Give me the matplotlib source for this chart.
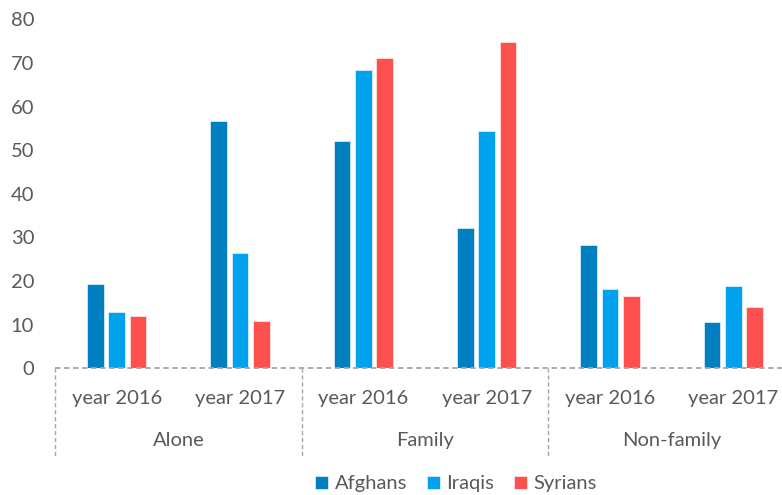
import matplotlib
matplotlib.use("Agg")
import matplotlib.pyplot as plt
import matplotlib.transforms as mtransforms
import numpy as np

groups = ["Alone", "Family", "Non-family"]
years = ["year 2016", "year 2017"]
series = ["Afghans", "Iraqis", "Syrians"]
afghans = [19.3, 56.8, 52.1, 32.2, 28.2, 10.6]
iraqis = [12.8, 26.5, 68.5, 54.4, 18.3, 18.9]
syrians = [12.0, 10.8, 71.1, 74.8, 16.6, 14.1]
colors = ["#0080C0", "#00A2EE", "#FF5050"]
yticks = [0, 10, 20, 30, 40, 50, 60, 70, 80]

plt.rcParams["font.family"] = ["Lato", "DejaVu Sans"]
text_color = "#595959"
grid_color = "#A6A6A6"

fig = plt.figure(figsize=(7.82, 4.95), dpi=100)
W, H = 782, 495
ax = fig.add_axes([55 / W, 1 - 368.3 / H, 740 / W, 348.8 / H])

x = np.arange(len(groups) * len(years))
width = 0.135
step = 0.174
for i, (name, vals, c) in enumerate(zip(series, [afghans, iraqis, syrians], colors)):
    ax.bar(x + (i - 1) * step, vals, width=width, color=c, label=name,
           edgecolor="white", linewidth=0.4, zorder=2)

ax.set_xlim(-0.5, len(x) - 0.5)
ax.set_ylim(0, 80)
ax.set_yticks(yticks)
ax.set_yticklabels([str(v) for v in yticks])
ax.tick_params(axis="y", length=0, pad=15, labelsize=14.5, labelcolor=text_color)
ax.set_xticks([])
for s in ["top", "right", "left", "bottom"]:
    ax.spines[s].set_visible(False)

# dashed baseline
ax.plot([-0.5, len(x) - 0.5], [0, 0], linestyle=(0, (3, 2)), color=grid_color,
        linewidth=1.3, clip_on=False, zorder=3)

trans = mtransforms.blended_transform_factory(ax.transData, ax.transAxes)
for xi in x:
    ax.text(xi, -0.088, years[xi % 2], transform=trans, ha="center", va="center",
            fontsize=14.5, color=text_color)
for gi, g in enumerate(groups):
    ax.text(gi * 2 + 0.5, -0.2056, g, transform=trans, ha="center", va="center",
            fontsize=14.5, color=text_color)
    ax.plot([gi * 2 - 0.5, gi * 2 - 0.5], [0, -0.25], transform=trans,
            linestyle=(0, (3, 2)), color=grid_color, linewidth=1.0, clip_on=False)

fig.legend(loc="center", bbox_to_anchor=(456 / W, 1 - 484 / H), ncol=3, frameon=False,
           fontsize=14.5, labelcolor=text_color, handlelength=0.65, handleheight=0.6,
           handletextpad=0.3, columnspacing=1.0)

fig.savefig("out.png", dpi=100)
